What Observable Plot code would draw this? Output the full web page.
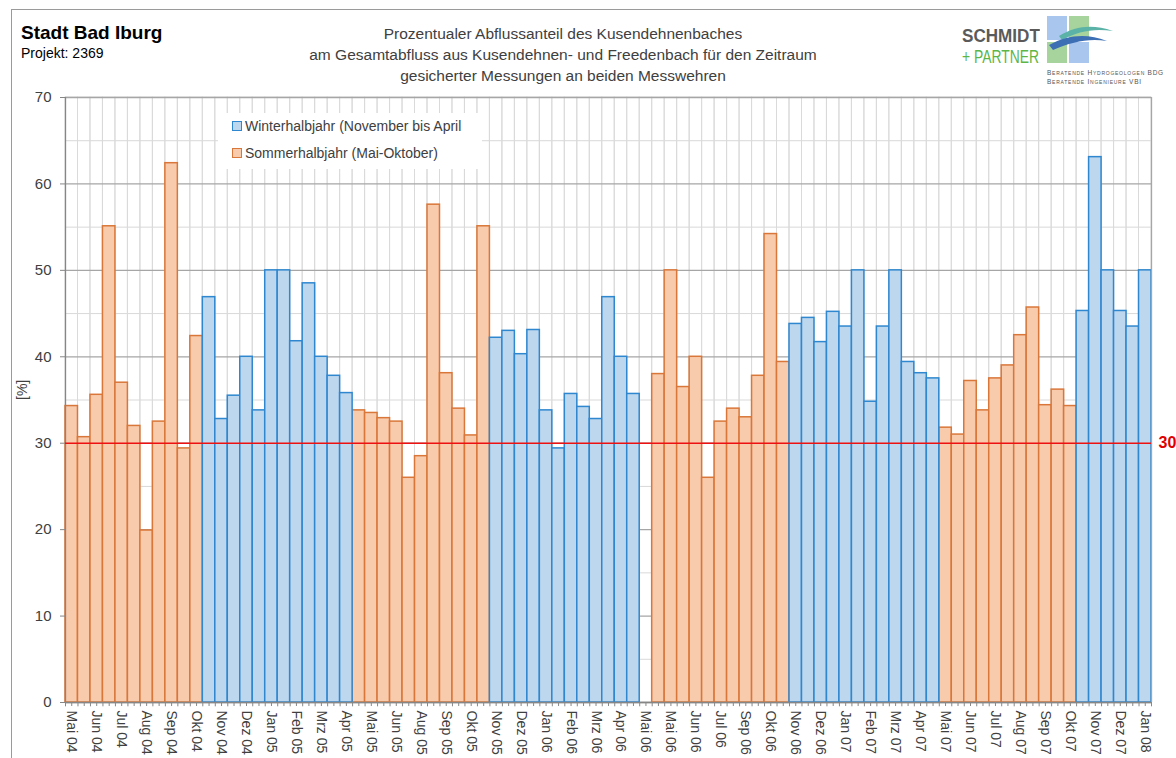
<!DOCTYPE html>
<html>
<head>
<meta charset="utf-8">
<script src="https://cdn.jsdelivr.net/npm/d3@7"></script>
<script src="https://cdn.jsdelivr.net/npm/@observablehq/plot@0.6"></script>
<style>
  html, body { margin: 0; padding: 0; background: #fff; }
  body { width: 1176px; height: 758px; position: relative; overflow: hidden; font-family: "Liberation Sans", Arial, sans-serif; }
  #frame { position: absolute; left: 11px; top: 9px; width: 1300px; height: 900px; border-left: 1px solid #9a9a9a; border-top: 1px solid #9a9a9a; }
  #chart { position: absolute; left: 0; top: 0; }
  .t1 { position: absolute; left: 21px; top: 22px; font-size: 19px; font-weight: bold; color: #000; }
  .t2 { position: absolute; left: 21px; top: 45px; font-size: 14px; color: #000; }
  .title { position: absolute; left: 263px; width: 600px; top: 23px; text-align: center; font-size: 15.5px; line-height: 21px; color: #404040; }
  .logo1 { position: absolute; left: 962px; top: 27px; font-size: 18px; line-height: 1; font-weight: bold; color: #5a5a5a; transform: scaleX(0.95); transform-origin: left center; white-space: nowrap; }
  .logo2 { position: absolute; left: 962px; top: 48px; font-size: 18px; line-height: 1; color: #5cb547; transform: scaleX(0.77); transform-origin: left center; white-space: nowrap; }
  .logo3 { position: absolute; left: 1047px; top: 68px; font-size: 6.5px; line-height: 9px; color: #555; letter-spacing: 0.75px; font-variant: small-caps; white-space: nowrap; }
  #logoG { position: absolute; left: 1046px; top: 14px; }
  .legend { position: absolute; left: 218px; top: 113px; width: 264px; height: 56px; background: #fff; }
  .li { position: absolute; left: 14px; font-size: 14px; color: #404040; white-space: nowrap; }
  .sw { display: inline-block; width: 8px; height: 8px; margin-right: 3px; vertical-align: 0px; }
</style>
</head>
<body>
<div id="frame"></div>
<div id="chart"></div>
<div class="t1">Stadt Bad Iburg</div>
<div class="t2">Projekt: 2369</div>
<div class="title">Prozentualer Abflussanteil des Kusendehnenbaches<br>am Gesamtabfluss aus Kusendehnen- und Freedenbach für den Zeitraum<br>gesicherter Messungen an beiden Messwehren</div>
<div class="logo1">SCHMIDT</div>
<div class="logo2">+ PARTNER</div>
<svg id="logoG" width="70" height="50" aria-hidden="true">
  <rect x="1" y="2" width="20" height="24" fill="#a9c7ee"/>
  <rect x="23" y="2" width="20" height="24" fill="#a6d49c"/>
  <rect x="1" y="28" width="20" height="21" fill="#a6d49c"/>
  <rect x="23" y="28" width="20" height="21" fill="#a9c7ee"/>
  <path d="M13,22 C30,12 46,10 67,17 C48,14 32,17 16,26 Z" fill="#5bb3a8"/>
  <path d="M3,31 C22,21 40,19 61,27 C42,24 26,28 7,36 Z" fill="#3d6fb5"/>
</svg>
<div class="logo3">Beratende Hydrogeologen BDG<br>Beratende Ingenieure VBI</div>
<div class="legend">
  <div class="li" style="top:5px"><span class="sw" style="background:#bdd7ee;border:1px solid #2f87cf"></span>Winterhalbjahr (November bis April</div>
  <div class="li" style="top:32px"><span class="sw" style="background:#f8cbad;border:1px solid #d9773a"></span>Sommerhalbjahr (Mai-Oktober)</div>
</div>
<script>
// ---- data ----
const xTickLabels = ["Mai 04","Jun 04","Jul 04","Aug 04","Sep 04","Okt 04","Nov 04","Dez 04","Jan 05","Feb 05","Mrz 05","Apr 05",
  "Mai 05","Jun 05","Aug 05","Sep 05","Okt 05","Nov 05","Dez 05","Jan 06","Feb 06","Mrz 06","Apr 06","Mai 06",
  "Mai 06","Jun 06","Jul 06","Sep 06","Okt 06","Nov 06","Dez 06","Jan 07","Feb 07","Mrz 07","Apr 07","Mai 07",
  "Jun 07","Jul 07","Aug 07","Sep 07","Okt 07","Nov 07","Dez 07","Jan 08"];
const values = [34.3,30.7,35.6,55.1,37.0,32.0,19.9,32.5,62.4,29.4,42.4,
  46.9,32.8,35.5,40.0,33.8,50.0,50.0,41.8,48.5,40.0,37.8,35.8,
  33.8,33.5,32.9,32.5,26.0,28.5,57.6,38.1,34.0,30.9,55.1,
  42.2,43.0,40.3,43.1,33.8,29.4,35.7,34.2,32.8,46.9,40.0,35.7,
  null,
  38.0,50.0,36.5,40.0,26.0,32.5,34.0,33.0,37.8,54.2,39.4,
  43.8,44.5,41.7,45.2,43.5,50.0,34.8,43.5,50.0,39.4,38.1,37.5,
  31.8,31.0,37.2,33.8,37.5,39.0,42.5,45.7,34.4,36.2,34.3,
  45.3,63.1,50.0,45.3,43.5,50.0];
const seasons = ["S","S","S","S","S","S","S","S","S","S","S",
  "W","W","W","W","W","W","W","W","W","W","W","W",
  "S","S","S","S","S","S","S","S","S","S","S",
  "W","W","W","W","W","W","W","W","W","W","W","W",
  "-",
  "S","S","S","S","S","S","S","S","S","S","S",
  "W","W","W","W","W","W","W","W","W","W","W","W",
  "S","S","S","S","S","S","S","S","S","S","S",
  "W","W","W","W","W","W"];
const threshold = 30;
const yMajor = [0,10,20,30,40,50,60,70];
const yMinor = [5,15,25,35,45,55,65];

// ---- chart ----
const W = 1176, H = 758, ML = 65, MR = 25, MT = 97, MB = 56;
const idx = d3.range(values.length);
const bw = (W - ML - MR) / values.length;
const data = idx.map(i => ({i, v: values[i], s: seasons[i]}));

const chart = Plot.plot({
  width: W, height: H,
  marginLeft: ML, marginRight: MR, marginTop: MT, marginBottom: MB,
  style: {fontFamily: "Liberation Sans, Arial, sans-serif", color: "#404040", background: "transparent"},
  x: {type: "band", domain: idx, padding: 0},
  y: {domain: [0, 70]},
  marks: [
    Plot.ruleY(yMinor, {stroke: "#d9d9d9", strokeWidth: 1}),
    Plot.barY(idx, {x: d => d, y1: 0, y2: 70, fill: "none", stroke: "#dadada", strokeWidth: 1}),
    Plot.ruleY(yMajor, {stroke: "#a6a6a6", strokeWidth: 1.3}),
    Plot.barY(data.filter(d => d.s === "S" && d.v != null), {x: "i", y: "v", fill: "#f8cbad", stroke: "#d9773a", strokeWidth: 1.5}),
    Plot.barY(data.filter(d => d.s === "W" && d.v != null), {x: "i", y: "v", fill: "#bdd7ee", stroke: "#2f87cf", strokeWidth: 1.5}),
    Plot.ruleX(idx, {x: d => d, y1: 0, y2: -0.5, dx: -bw / 2, stroke: "#888"}),
    Plot.ruleX([idx[idx.length - 1]], {x: d => d, y1: 0, y2: -0.5, dx: bw / 2, stroke: "#888"}),
    Plot.ruleX([idx[0]], {x: d => d, y1: 0, y2: 70, dx: -bw / 2, stroke: "#868686", strokeWidth: 1.3}),
    Plot.ruleX([idx[idx.length - 1]], {x: d => d, y1: 0, y2: 70, dx: bw / 2, stroke: "#a6a6a6", strokeWidth: 1.3}),
    Plot.ruleY([0], {stroke: "#868686", strokeWidth: 1.3}),
    Plot.ruleY([threshold], {stroke: "#ee1111", strokeWidth: 1.5}),
    Plot.text([threshold], {y: d => d, frameAnchor: "right", dx: 7, textAnchor: "start", text: d => String(d), fill: "#e00000", fontWeight: "bold", fontSize: 16}),
    Plot.axisY({ticks: yMajor, tickSize: 5, tickPadding: 9, fontSize: 15, label: null, stroke: "#868686"}),
    Plot.text(["[%]"], {frameAnchor: "left", dx: -43, rotate: -90, text: d => d, fontSize: 14, fill: "#404040"}),
    Plot.axisX({ticks: idx, tickSize: 4, tickPadding: 4, tickRotate: 90, fontSize: 14, label: null, stroke: "#888",
      tickFormat: i => (i % 2 === 0 ? xTickLabels[i / 2] : "")})
  ]
});
document.getElementById("chart").appendChild(chart);
</script>
</body>
</html>
